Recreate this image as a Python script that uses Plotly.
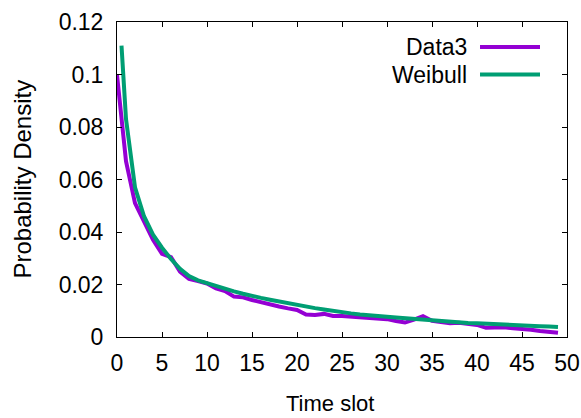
import plotly.graph_objects as go

# ---- data ----
data3_x = list(range(0, 50))
data3_y = [0.0998, 0.067, 0.051, 0.044, 0.037, 0.0317, 0.0304, 0.0249, 0.0221, 0.0213,
           0.0204, 0.0185, 0.0175, 0.0154, 0.0151, 0.0141, 0.0132, 0.0126, 0.0116, 0.0109,
           0.0103, 0.0086, 0.0084, 0.0088, 0.0080, 0.0080, 0.0078, 0.0074, 0.0072, 0.0073,
           0.0068, 0.0061, 0.0055, 0.0066, 0.0079, 0.0062, 0.0058, 0.0052, 0.0054, 0.0050,
           0.0046, 0.0035, 0.0035, 0.0037, 0.0033, 0.0031, 0.0028, 0.0023, 0.0020, 0.0016]

weibull_x = [0.5] + list(range(1, 50))
weibull_y = [0.111, 0.083, 0.057, 0.046, 0.039, 0.0340, 0.0297, 0.0260, 0.0232, 0.0216,
             0.0205, 0.0194, 0.0184, 0.0174, 0.0165, 0.0156, 0.0149, 0.0142, 0.0135, 0.0128,
             0.0122, 0.0116, 0.0110, 0.0105, 0.0099, 0.0094, 0.0090, 0.0086, 0.0082, 0.0079,
             0.0077, 0.0074, 0.0071, 0.0069, 0.0067, 0.0065, 0.0059, 0.0057, 0.0055, 0.0053,
             0.0052, 0.0050, 0.0049, 0.0047, 0.0046, 0.0045, 0.0043, 0.0041, 0.0040, 0.0038]

series_names = ["Data3", "Weibull"]
series_colors = ["#9400D3", "#009E73"]

x_tickvals = [0, 5, 10, 15, 20, 25, 30, 35, 40, 45, 50]
x_ticktext = ["0", "5", "10", "15", "20", "25", "30", "35", "40", "45", "50"]
y_tickvals = [0, 0.02, 0.04, 0.06, 0.08, 0.1, 0.12]
y_ticktext = ["0", "0.02", "0.04", "0.06", "0.08", "0.1", "0.12"]

FONT = "Liberation Sans, Arial, sans-serif"
FS = 23

fig = go.Figure()
fig.add_trace(go.Scatter(x=data3_x, y=data3_y, mode="lines", name=series_names[0],
                         line=dict(color=series_colors[0], width=4)))
fig.add_trace(go.Scatter(x=weibull_x, y=weibull_y, mode="lines", name=series_names[1],
                         line=dict(color=series_colors[1], width=4)))

axis_common = dict(showline=True, linecolor="black", linewidth=1, mirror="allticks",
                   ticks="inside", ticklen=5, tickcolor="black", showgrid=False,
                   zeroline=False, automargin=False,
                   tickfont=dict(family=FONT, size=FS, color="black"))

fig.update_xaxes(range=[0, 50], tickvals=x_tickvals, ticktext=x_ticktext,
                 ticklabelstandoff=5, **axis_common)
fig.update_yaxes(range=[0, 0.12], tickvals=y_tickvals, ticktext=y_ticktext,
                 ticklabelstandoff=8, **axis_common)

# manual legend (text on left, line sample on right, as in the reference)
leg_rows_y = [0.9206, 0.8333]
shapes = []
annotations = []
for name, color, yy in zip(series_names, series_colors, leg_rows_y):
    shapes.append(dict(type="line", xref="paper", yref="paper", x0=0.8067, x1=0.94,
                       y0=yy, y1=yy, line=dict(color=color, width=4)))
    annotations.append(dict(text=name, xref="paper", yref="paper", x=0.783, y=yy,
                            xanchor="right", yanchor="middle", showarrow=False,
                            font=dict(family=FONT, size=FS, color="black")))

annotations.append(dict(text="Time slot", xref="paper", yref="paper", x=0.473, y=-0.21,
                        xanchor="center", yanchor="middle", showarrow=False,
                        font=dict(family=FONT, size=22, color="black")))
annotations.append(dict(text="Probability Density", xref="paper", yref="paper", x=-0.211,
                        y=0.5, xanchor="center", yanchor="middle", textangle=-90,
                        showarrow=False, font=dict(family=FONT, size=24, color="black")))

fig.update_layout(width=581, height=418, showlegend=False,
                  margin=dict(l=117, r=14, t=22, b=81, autoexpand=False),
                  paper_bgcolor="white", plot_bgcolor="white",
                  shapes=shapes, annotations=annotations,
                  font=dict(family=FONT, size=FS, color="black"))

# remove the browser's default 8px body margin so the figure sits at (0, 0)
fig.write_html("out.html", config={"displayModeBar": False, "staticPlot": True},
               post_script="document.body.style.margin='0';document.body.style.overflow='hidden';")
